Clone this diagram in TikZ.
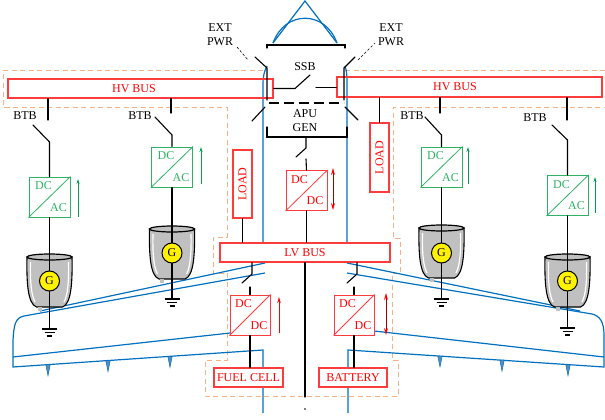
\documentclass[tikz,border=0pt]{standalone}
\usepackage{fontspec}
\setmainfont{Liberation Serif}
\usetikzlibrary{arrows.meta}

\definecolor{fblue}{RGB}{0,112,192}
\definecolor{spike}{RGB}{90,140,185}
\definecolor{fgreen}{RGB}{46,178,100}
\definecolor{agreen}{RGB}{0,160,80}
\definecolor{zone}{RGB}{244,177,131}
\definecolor{bred}{RGB}{255,60,60}
\definecolor{nacgray}{RGB}{192,192,192}

\tikzset{
  nacelle/.pic={
    \path[fill=nacgray, draw=black, line width=1.1pt]
      (-22.5,0) .. controls (-23,24) and (-22,47) .. (-13,50) -- (13,50)
      .. controls (22,47) and (23,24) .. (22.5,0) -- cycle;
    \fill[nacgray] (-12,50) rectangle (-8,53.5);
    \draw[white, line width=1.2pt] (-19,5) .. controls (-19.5,22) and (-18.5,38) .. (-14.5,45);
    \draw[white, line width=1.2pt] (19,5) .. controls (19.5,22) and (18.5,38) .. (14.5,45);
    \draw[line width=1.2pt, fill=nacgray] (0,0) ellipse [x radius=22.5, y radius=3];
  },
  earth/.pic={
    \draw[line width=1.2pt] (-7.5,0) -- (7.5,0) (-5,3.5) -- (5,3.5) (-2.5,7) -- (2.5,7);
  },
  flapfin/.pic={
    \filldraw[fill=spike, draw=fblue, line width=0.5pt] (-2.2,0) -- (0,11) -- (2.2,0) -- cycle;
  }
}

\begin{document}
\begin{tikzpicture}[x=1pt,y=-1pt,
  font=\fontsize{12}{14.5}\selectfont,
  wire/.style={line width=1.1pt, line cap=round},
  hull/.style={draw=fblue, line width=1.2pt},
  zoneline/.style={draw=zone, line width=1pt, dash pattern=on 5pt off 3.5pt},
  bus/.style={draw=bred, line width=1.1pt, text=red, inner sep=0pt},
  conv/.style={draw=#1, line width=1pt, fill=white, minimum width=41pt,
               minimum height=40pt, inner sep=0pt},
  gen/.style={circle, draw, fill=yellow, line width=1pt, minimum size=20pt, inner sep=0pt},
  flow/.style={agreen, line width=0.8pt, -{Stealth[length=5pt,width=3pt]}},
  rflow/.style={red, line width=0.9pt, -{Stealth[length=6pt,width=3.5pt]}},
  rboth/.style={red!60!black, line width=0.9pt,
                {Stealth[length=7pt,width=4pt,color=red]}-{Stealth[length=7pt,width=4pt,color=red]}},
  extdash/.style={line width=0.6pt, dash pattern=on 2.5pt off 2pt}
]
\useasboundingbox (0,0) rectangle (605,420);

% ---------- power zones ----------
\draw[zoneline] (263,71) -- (3,71) -- (3,107) -- (227,107) -- (227,237) -- (213,237)
  -- (213,273) -- (227,273) -- (227,360) -- (205,360) -- (205,396) -- (398,396)
  -- (398,360) -- (392,360) -- (392,273) -- (400,273) -- (400,238) -- (393,238)
  -- (393,107) -- (610,107);
\draw[zoneline] (345,71) -- (610,71);

% ---------- airframe ----------
\draw[hull] (273,43) -- (305,1) -- (337,43);
\draw[hull] (273,43) .. controls (285,10) and (325,10) .. (337,43);
\draw[hull] (267,66) .. controls (264,72) and (263,76) .. (263,85) -- (263,243);
\draw[hull] (345,66) .. controls (347,72) and (347,76) .. (347,85) -- (347,243);
% left wing
\draw[hull] (265,273) -- (24,316) .. controls (15,318) and (14,325) .. (13,340) -- (13,367) -- (263,350) -- (263,413);
\draw[hull] (40,311) -- (265,263);
\draw[hull] (13,357) -- (230,333);
% right wing
\draw[hull] (347,273) -- (592,314) .. controls (600,316) and (604,322) .. (604,335) -- (604,367) -- (348,350) -- (348,413);
\draw[hull] (347,263) -- (580,311);
\draw[hull] (604,357) -- (374,331);
\pic at (48,364.6) {flapfin};
\pic at (108,360.5) {flapfin};
\pic at (170,356.3) {flapfin};
\pic at (440,356.1) {flapfin};
\pic at (502,360.2) {flapfin};
\pic at (568,364.6) {flapfin};

% ---------- engines ----------
\pic at (49.5,257) {nacelle};
\pic at (172,229) {nacelle};
\pic at (441.5,228) {nacelle};
\pic at (567.5,257) {nacelle};

% ---------- buses and loads ----------
\node[bus, minimum width=265pt, minimum height=19pt] (hvL) at (140.5,88.5) {};
\node[text=red] (hvLtxt) at (134,88.5) {HV BUS};
\node[bus, minimum width=265pt, minimum height=20pt] (hvR) at (469.5,87) {};
\node[text=red] (hvRtxt) at (455,87) {HV BUS};
\node[bus, fill=white, minimum width=170pt, minimum height=19pt] (lv) at (305,252.5) {LV BUS};
\node[bus, fill=white, rotate=90, minimum width=68pt, minimum height=19pt] (loadL) at (242.5,184) {LOAD};
\node[bus, fill=white, rotate=90, minimum width=69pt, minimum height=19pt] (loadR) at (379.5,157.5) {LOAD};
\node[bus, fill=white, minimum width=69pt, minimum height=19pt] (fc) at (248.5,377.5) {FUEL CELL};
\node[bus, fill=white, minimum width=68pt, minimum height=19pt] (bat) at (353,377.5) {BATTERY};

% ---------- converters ----------
\foreach \n/\x/\y in {cLO/49.5/197, cLI/172/167, cRI/441.5/167, cRO/567.5/195.5}{
  \node[conv=fgreen] (\n) at (\x,\y) {};
  \draw[fgreen, line width=0.8pt] (\n.south west) -- (\n.north east);
  \node[text=fgreen] at ([shift={(15,9.5)}]\n.north west) {DC};
  \node[text=fgreen] at ([shift={(30,31)}]\n.north west) {AC};
}
\foreach \n/\x/\y/\w in {dApu/306.5/190.5/41, dFc/250/315/40, dBat/354/315/40}{
  \node[conv=bred, minimum width=\w pt] (\n) at (\x,\y) {};
  \draw[bred, line width=0.8pt] (\n.south west) -- (\n.north east);
  \node[text=red] at ([shift={(14,9.5)}]\n.north west) {DC};
  \node[text=red] at ([shift={(29.5,31)}]\n.north west) {DC};
}

% ---------- generator channels ----------
\coordinate (bLOa) at (48,120);   \coordinate (bLOb) at (33,125);   \coordinate (bLOc) at (49.5,142);
\coordinate (bLIa) at (171,113);  \coordinate (bLIb) at (155,117);  \coordinate (bLIc) at (172,135);
\coordinate (bRIa) at (440,113);  \coordinate (bRIb) at (425,117);  \coordinate (bRIc) at (441.5,135);
\coordinate (bROa) at (567,120);  \coordinate (bROb) at (552,125);  \coordinate (bROc) at (567.5,140);
\draw[wire] (hvL.south -| bLOa) -- (bLOa);  \draw[wire] (bLOb) -- (bLOc) -- (cLO.north);
\draw[wire] (hvL.south -| bLIa) -- (bLIa);  \draw[wire] (bLIb) -- (bLIc) -- (cLI.north);
\draw[wire] (hvR.south -| bRIa) -- (bRIa);  \draw[wire] (bRIb) -- (bRIc) -- (cRI.north);
\draw[wire] (hvR.south -| bROa) -- (bROa);  \draw[wire] (bROb) -- (bROc) -- (cRO.north);

\coordinate (eLO) at (49.5,329);
\coordinate (eLI) at (172,299);
\coordinate (eRI) at (441.5,299);
\coordinate (eRO) at (567.5,328);
\draw[wire] (cLO.south) -- (eLO);  \pic at (eLO) {earth};
\draw[wire] (cLI.south) -- (eLI);  \pic at (eLI) {earth};
\draw[wire] (cRI.south) -- (eRI);  \pic at (eRI) {earth};
\draw[wire] (cRO.south) -- (eRO);  \pic at (eRO) {earth};

\node[gen] (gLO) at (49.5,281) {G};
\node[gen] (gLI) at (172,253) {G};
\node[gen] (gRI) at (441.5,253) {G};
\node[gen] (gRO) at (567.5,281) {G};

\node (btb1) at (25,116) {BTB};
\node (btb2) at (140,116) {BTB};
\node (btb3) at (412,116) {BTB};
\node (btb4) at (535,118) {BTB};

% ---------- external power, bus tie and APU ----------
\node[align=center] (extL) at (220,34.5) {EXT\\PWR};
\node[align=center] (extR) at (391,34.5) {EXT\\PWR};
\node (ssb) at (305,67) {SSB};
\node[align=center] (apu) at (305,120.5) {APU\\GEN};

\draw[extdash] (237,47) -- (248,60);
\draw[extdash] (358,60) -- (375,43);
\draw[wire] (255,57) -- (267,68) -- (267,100);
\draw[wire] (355,57) -- (344,68) -- (344,100);
\draw[wire] (265,107) -- (252,121);
\draw[wire] (345,107) -- (358,120);
\draw[line width=1.1pt, dash pattern=on 10pt off 5pt] (269,103) -- (344,103);
\draw[wire] (267,48) -- (267,45) -- (345,45) -- (345,48);
\draw[wire] (267,127) -- (267,137) -- (347,137) -- (347,127);

\draw[wire] (hvL.east) -- (295,88.5) -- (310,75);
\draw[wire] (316,87.5) -- (hvR.west |- 0,87.5);

\draw[wire] (306,137) -- (306,148) -- (296,157);
\draw[wire] (306,159) -- (dApu.north);
\draw[wire] (dApu.south) -- (dApu.south |- lv.north);
\draw[rboth] (333,168) -- (333,210);

% ---------- loads ----------
\draw[wire] (loadL.west) -- (loadL.west |- lv.north);
\draw[wire] (loadR.east |- hvR.south) -- (loadR.east);

% ---------- LV side ----------
\draw[wire] (lv.south) -- (305,397);
\fill (305,409) circle (0.9);

\coordinate (sF1) at (252,274);
\draw[wire] (sF1 |- lv.south) -- (sF1) -- (242,283);
\draw[wire] (250,287) -- (dFc.north);
\draw[wire] (dFc.south) -- (dFc.south |- fc.north);
\draw[rflow] (279,333) -- (279,297);

\coordinate (sB1) at (357,274);
\draw[wire] (sB1 |- lv.south) -- (sB1) -- (347,283);
\draw[wire] (354,287) -- (dBat.north);
\draw[wire] (dBat.south) -- (dBat.south |- bat.north);
\draw[rboth] (386,293) -- (386,335);

% ---------- generator power flow ----------
\draw[flow] (78,217) -- (78,179);
\draw[flow] (201,184) -- (201,147);
\draw[flow] (468,184) -- (468,147);
\draw[flow] (595,213) -- (595,177);
\end{tikzpicture}
\end{document}
